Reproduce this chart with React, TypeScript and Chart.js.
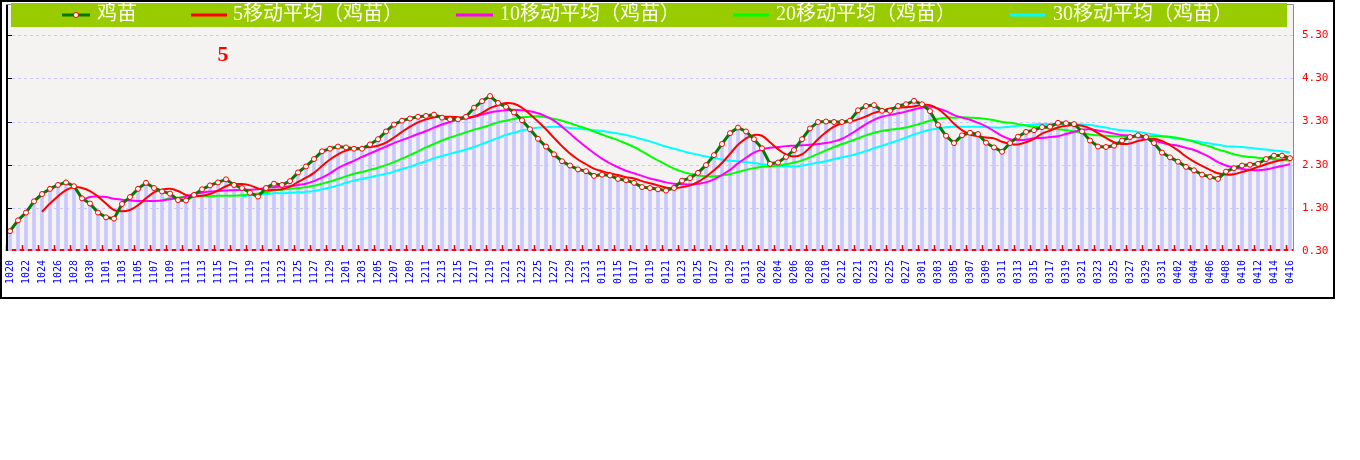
import React, { useEffect, useRef } from 'react';
import { Chart, registerables } from 'chart.js';

Chart.register(...registerables);

const dates = [
  '1020','1021','1022','1023','1024','1025','1026','1027','1028','1029','1030','1031',
  '1101','1102','1103','1104','1105','1106','1107','1108','1109','1110','1111','1112','1113','1114','1115','1116','1117','1118','1119','1120','1121','1122','1123','1124','1125','1126','1127','1128','1129','1130',
  '1201','1202','1203','1204','1205','1206','1207','1208','1209','1210','1211','1212','1213','1214','1215','1216','1217','1218','1219','1220','1221','1222','1223','1224','1225','1226','1227','1228','1229','1230','1231',
  '0112',
  '0113','0114','0115','0116','0117','0118','0119','0120','0121','0122','0123','0124','0125','0126','0127','0128','0129','0130','0131',
  '0201','0202','0203','0204','0205','0206','0207','0208','0209','0210','0211','0212',
  '0220',
  '0221','0222','0223','0224','0225','0226','0227','0228',
  '0301','0302','0303','0304','0305','0306','0307','0308','0309','0310','0311','0312','0313','0314','0315','0316','0317','0318','0319','0320','0321','0322','0323','0324','0325','0326','0327','0328','0329','0330','0331',
  '0401','0402','0403','0404','0405','0406','0407','0408','0409','0410','0411','0412','0413','0414','0415','0416'
];

const price = [
  0.76,1.01,1.19,1.45,1.62,1.74,1.83,1.89,1.80,1.52,
  1.40,1.19,1.08,1.05,1.39,1.55,1.74,1.88,1.76,1.68,
  1.63,1.48,1.47,1.60,1.73,1.82,1.89,1.96,1.83,1.76,
  1.65,1.56,1.76,1.86,1.83,1.92,2.12,2.26,2.43,2.61,
  2.67,2.72,2.70,2.67,2.67,2.77,2.89,3.07,3.23,3.32,
  3.37,3.41,3.43,3.46,3.39,3.35,3.35,3.41,3.62,3.77,
  3.89,3.73,3.64,3.51,3.33,3.12,2.90,2.72,2.54,2.38,
  2.28,2.19,2.15,2.04,2.07,2.05,1.97,1.94,1.88,1.78,
  1.76,1.73,1.70,1.76,1.93,1.99,2.11,2.29,2.52,2.78,
  3.03,3.16,3.07,2.89,2.68,2.32,2.35,2.48,2.64,2.89,
  3.14,3.29,3.30,3.29,3.29,3.32,3.56,3.66,3.68,3.55,
  3.55,3.66,3.70,3.78,3.70,3.54,3.22,2.97,2.80,2.98,
  3.04,3.01,2.81,2.70,2.60,2.80,2.95,3.06,3.10,3.17,
  3.18,3.27,3.26,3.24,3.07,2.86,2.72,2.71,2.74,2.86,
  2.94,2.98,2.94,2.80,2.58,2.47,2.37,2.25,2.17,2.07,
  2.02,1.97,2.14,2.22,2.28,2.30,2.32,2.43,2.51,2.51,
  2.45
];

const ma5 = [
  null,null,null,null,1.21,1.40,1.57,1.71,1.78,1.76,
  1.69,1.56,1.40,1.25,1.22,1.25,1.36,1.52,1.66,1.72,
  1.74,1.69,1.60,1.57,1.58,1.62,1.70,1.80,1.85,1.85,
  1.82,1.75,1.71,1.72,1.73,1.79,1.90,2.00,2.11,2.27,
  2.42,2.54,2.63,2.67,2.69,2.71,2.74,2.81,2.93,3.06,
  3.18,3.28,3.35,3.40,3.41,3.41,3.40,3.39,3.42,3.50,
  3.61,3.68,3.73,3.71,3.62,3.47,3.30,3.12,2.92,2.73,
  2.56,2.42,2.31,2.21,2.15,2.10,2.06,2.01,1.98,1.92,
  1.87,1.82,1.77,1.75,1.78,1.82,1.90,2.02,2.17,2.34,
  2.55,2.76,2.91,2.99,2.97,2.82,2.66,2.54,2.49,2.54,
  2.70,2.89,3.05,3.18,3.26,3.30,3.35,3.42,3.50,3.55,
  3.60,3.62,3.63,3.65,3.68,3.68,3.59,3.44,3.25,3.10,
  3.00,2.96,2.93,2.91,2.83,2.78,2.77,2.82,2.90,3.02,
  3.09,3.16,3.20,3.22,3.20,3.14,3.03,2.92,2.82,2.78,
  2.79,2.85,2.89,2.90,2.85,2.75,2.63,2.49,2.37,2.27,
  2.18,2.10,2.07,2.08,2.13,2.18,2.25,2.31,2.37,2.41,
  2.44
];

const ma10 = [
  null,null,null,null,null,null,null,null,null,1.48,
  1.55,1.56,1.55,1.51,1.49,1.47,1.46,1.46,1.46,1.47,
  1.50,1.52,1.56,1.62,1.65,1.68,1.69,1.70,1.71,1.72,
  1.72,1.73,1.76,1.78,1.79,1.80,1.83,1.86,1.92,2.00,
  2.10,2.22,2.31,2.39,2.48,2.56,2.64,2.72,2.80,2.87,
  2.94,3.01,3.08,3.16,3.23,3.29,3.34,3.37,3.41,3.46,
  3.51,3.54,3.56,3.57,3.56,3.54,3.49,3.42,3.32,3.18,
  3.02,2.86,2.71,2.57,2.44,2.33,2.24,2.16,2.10,2.04,
  1.98,1.94,1.89,1.86,1.85,1.84,1.86,1.89,1.96,2.06,
  2.18,2.33,2.46,2.58,2.65,2.69,2.71,2.73,2.74,2.75,
  2.76,2.78,2.80,2.84,2.90,3.00,3.12,3.24,3.34,3.41,
  3.45,3.49,3.53,3.58,3.62,3.64,3.60,3.54,3.45,3.39,
  3.34,3.27,3.19,3.08,2.97,2.89,2.87,2.88,2.91,2.92,
  2.94,2.96,3.01,3.06,3.11,3.12,3.09,3.06,3.02,2.99,
  2.97,2.94,2.91,2.86,2.81,2.77,2.74,2.69,2.64,2.56,
  2.47,2.36,2.28,2.23,2.20,2.18,2.17,2.19,2.23,2.27,
  2.31
];

const ma20 = [
  null,null,null,null,null,null,null,null,null,null,
  null,null,null,null,null,null,null,null,null,1.48,
  1.52,1.54,1.56,1.57,1.57,1.57,1.58,1.58,1.58,1.59,
  1.61,1.63,1.66,1.70,1.72,1.74,1.76,1.78,1.81,1.86,
  1.91,1.97,2.03,2.09,2.13,2.18,2.23,2.29,2.36,2.44,
  2.52,2.61,2.70,2.78,2.86,2.93,2.99,3.05,3.11,3.16,
  3.22,3.28,3.32,3.36,3.40,3.41,3.42,3.40,3.36,3.32,
  3.26,3.20,3.14,3.07,3.00,2.93,2.87,2.79,2.71,2.61,
  2.50,2.40,2.30,2.21,2.14,2.09,2.05,2.03,2.03,2.05,
  2.08,2.13,2.18,2.22,2.25,2.26,2.28,2.31,2.35,2.40,
  2.47,2.55,2.63,2.71,2.78,2.84,2.91,2.98,3.04,3.08,
  3.11,3.13,3.16,3.21,3.26,3.32,3.36,3.39,3.39,3.40,
  3.39,3.38,3.36,3.33,3.29,3.27,3.24,3.21,3.18,3.16,
  3.14,3.12,3.10,3.07,3.04,3.00,2.98,2.97,2.96,2.96,
  2.95,2.95,2.96,2.96,2.96,2.95,2.92,2.88,2.83,2.77,
  2.72,2.65,2.60,2.54,2.50,2.48,2.46,2.44,2.43,2.41,
  2.39
];

const ma30 = [
  null,null,null,null,null,null,null,null,null,null,
  null,null,null,null,null,null,null,null,null,null,
  null,null,null,null,null,null,null,null,null,1.56,
  1.59,1.60,1.62,1.64,1.64,1.65,1.66,1.67,1.69,1.73,
  1.77,1.82,1.88,1.93,1.97,2.01,2.05,2.09,2.14,2.20,
  2.25,2.32,2.38,2.45,2.50,2.55,2.60,2.65,2.71,2.78,
  2.85,2.92,2.99,3.04,3.09,3.13,3.16,3.17,3.18,3.17,
  3.15,3.14,3.12,3.10,3.08,3.05,3.02,2.99,2.94,2.89,
  2.84,2.78,2.72,2.67,2.62,2.57,2.53,2.49,2.46,2.42,
  2.39,2.38,2.36,2.34,2.31,2.29,2.27,2.26,2.26,2.28,
  2.31,2.35,2.38,2.43,2.47,2.51,2.56,2.62,2.68,2.74,
  2.80,2.86,2.93,3.00,3.06,3.11,3.14,3.17,3.18,3.18,
  3.18,3.18,3.17,3.16,3.16,3.18,3.20,3.22,3.23,3.24,
  3.24,3.24,3.24,3.24,3.23,3.22,3.19,3.16,3.12,3.10,
  3.08,3.06,3.03,3.00,2.96,2.93,2.90,2.88,2.85,2.82,
  2.79,2.76,2.73,2.72,2.71,2.69,2.67,2.65,2.63,2.61,
  2.58
];

const yTickValues = [0.3, 1.3, 2.3, 3.3, 4.3, 5.3];
const seriesNames = ['鸡苗', '5移动平均（鸡苗）', '10移动平均（鸡苗）', '20移动平均（鸡苗）', '30移动平均（鸡苗）'];
const seriesColors = ['#007a00', '#ff0000', '#ff00ff', '#00ff00', '#00ffff'];
const periodLabel = '5';

const LEGEND_ITEMS = [
  { lineX: 62, lineW: 28, textX: 97 },
  { lineX: 191, lineW: 36, textX: 233 },
  { lineX: 456, lineW: 37, textX: 500 },
  { lineX: 733, lineW: 36, textX: 776 },
  { lineX: 1010, lineW: 35, textX: 1053 },
];

const decorPlugin = {
  id: 'decor',
  beforeDraw(chart: any) {
    const { ctx, chartArea: a, width, height } = chart;
    const ys = chart.scales.y;
    const xs = chart.scales.x;
    ctx.save();
    ctx.fillStyle = '#ffffff';
    ctx.fillRect(0, 0, width, height);
    ctx.fillStyle = '#f5f3f2';
    ctx.fillRect(a.left, a.top, a.right - a.left, a.bottom - a.top);
    // dashed grid lines
    ctx.strokeStyle = '#c8c8ff';
    ctx.lineWidth = 1;
    ctx.setLineDash([3, 3]);
    yTickValues.slice(1).forEach((v) => {
      const py = Math.round(ys.getPixelForValue(v)) + 0.5;
      ctx.beginPath();
      ctx.moveTo(a.left, py);
      ctx.lineTo(a.right, py);
      ctx.stroke();
    });
    ctx.setLineDash([]);
    // red bottom axis line
    ctx.strokeStyle = '#ff0000';
    ctx.lineWidth = 2;
    ctx.beginPath();
    ctx.moveTo(a.left, a.bottom - 1);
    ctx.lineTo(a.right, a.bottom - 1);
    ctx.stroke();
    // red tick marks every two categories
    const step = xs.getPixelForValue(1) - xs.getPixelForValue(0);
    ctx.lineWidth = 1.5;
    for (let i = 0; i < dates.length; i += 2) {
      const px = Math.round(xs.getPixelForValue(i) - step / 2) + 0.5;
      ctx.beginPath();
      ctx.moveTo(px, a.bottom);
      ctx.lineTo(px, a.bottom - 6);
      ctx.stroke();
    }
    ctx.restore();
  },
  afterDraw(chart: any) {
    const { ctx, chartArea: a, width, height } = chart;
    const ys = chart.scales.y;
    ctx.save();
    // plot border (top/right gray)
    ctx.strokeStyle = '#8c8c8c';
    ctx.lineWidth = 1;
    ctx.beginPath();
    ctx.moveTo(a.left, a.top - 0.5);
    ctx.lineTo(a.right - 0.5, a.top - 0.5);
    ctx.lineTo(a.right - 0.5, a.bottom);
    ctx.stroke();
    // left black axis with ticks
    ctx.strokeStyle = '#000000';
    ctx.lineWidth = 2;
    ctx.beginPath();
    ctx.moveTo(a.left + 1, a.top);
    ctx.lineTo(a.left + 1, a.bottom);
    ctx.stroke();
    ctx.lineWidth = 1;
    yTickValues.slice(1).forEach((v) => {
      const py = Math.round(ys.getPixelForValue(v)) + 0.5;
      ctx.beginPath();
      ctx.moveTo(a.left, py);
      ctx.lineTo(a.left + 6, py);
      ctx.stroke();
    });
    // outer frame
    ctx.lineWidth = 2;
    ctx.strokeRect(1, 1, width - 2, height - 2);
    // legend bar
    ctx.fillStyle = '#99cc00';
    ctx.fillRect(11, 3, 1276, 24);
    const ly = 15;
    LEGEND_ITEMS.forEach((it, i) => {
      ctx.strokeStyle = seriesColors[i];
      ctx.lineWidth = 3;
      ctx.beginPath();
      ctx.moveTo(it.lineX, ly);
      ctx.lineTo(it.lineX + it.lineW, ly);
      ctx.stroke();
      if (i === 0) {
        ctx.fillStyle = '#ffffff';
        ctx.strokeStyle = '#ff0000';
        ctx.lineWidth = 1;
        ctx.beginPath();
        ctx.arc(it.lineX + it.lineW / 2, ly, 2.5, 0, Math.PI * 2);
        ctx.fill();
        ctx.stroke();
      }
      ctx.fillStyle = '#ffffee';
      ctx.font = '20px "Liberation Serif", "Noto Sans CJK SC", serif';
      ctx.textBaseline = 'middle';
      ctx.textAlign = 'left';
      ctx.fillText(seriesNames[i], it.textX, ly);
    });
    // period label
    ctx.fillStyle = '#ff0000';
    ctx.font = 'bold 22px "Liberation Serif", serif';
    ctx.textAlign = 'center';
    ctx.textBaseline = 'middle';
    ctx.fillText(periodLabel, 223, 55);
    ctx.restore();
  },
};

export default function App() {
  const canvasRef = useRef<HTMLCanvasElement | null>(null);

  useEffect(() => {
    const canvas = canvasRef.current;
    if (!canvas) return;
    const lineDs = (label: string, data: (number | null)[], color: string, order: number) => ({
      type: 'line' as const,
      label,
      data,
      borderColor: color,
      backgroundColor: color,
      borderWidth: 2,
      pointRadius: 0,
      tension: 0.4,
      fill: false,
      order,
    });
    const chart = new Chart(canvas, {
      type: 'bar',
      data: {
        labels: dates,
        datasets: [
          {
            type: 'line' as const,
            label: seriesNames[0],
            data: price,
            borderColor: seriesColors[0],
            borderWidth: 3,
            pointRadius: 2.5,
            pointBackgroundColor: '#ffffff',
            pointBorderColor: '#ff0000',
            pointBorderWidth: 1,
            tension: 0,
            fill: false,
            order: 0,
          },
          lineDs(seriesNames[1], ma5, seriesColors[1], 1),
          lineDs(seriesNames[2], ma10, seriesColors[2], 2),
          lineDs(seriesNames[3], ma20, seriesColors[3], 3),
          lineDs(seriesNames[4], ma30, seriesColors[4], 4),
          {
            type: 'bar' as const,
            label: 'bars',
            data: price,
            backgroundColor: '#c8c8ff',
            barThickness: 3,
            order: 5,
          },
        ] as any,
      },
      plugins: [decorPlugin],
      options: {
        responsive: false,
        animation: false,
        devicePixelRatio: 1,
        layout: { padding: { left: 6, top: 3, right: 0, bottom: 0 } },
        plugins: {
          legend: { display: false },
          tooltip: { enabled: false },
        },
        scales: {
          x: {
            offset: true,
            grid: { display: false, drawTicks: false },
            border: { display: false },
            ticks: {
              autoSkip: false,
              minRotation: 90,
              maxRotation: 90,
              padding: 9,
              color: '#0000ff',
              font: { family: '"DejaVu Sans Mono", monospace', size: 10 },
              callback: (_v: any, idx: number) => (idx % 2 === 0 ? dates[idx] : ''),
            },
            afterFit: (scale: any) => {
              scale.height = 48;
              scale.paddingLeft = 0;
              scale.paddingRight = 0;
            },
          },
          y: {
            position: 'right',
            min: 0.3,
            max: 6.0,
            grid: { display: false, drawTicks: false },
            border: { display: false },
            afterBuildTicks: (scale: any) => {
              scale.ticks = yTickValues.map((v) => ({ value: v }));
            },
            ticks: {
              color: '#ff0000',
              padding: 8,
              font: { family: '"DejaVu Sans Mono", monospace', size: 11 },
              callback: (v: any) => Number(v).toFixed(2),
            },
            afterFit: (scale: any) => {
              scale.width = 41;
              scale.paddingTop = 0;
              scale.paddingBottom = 0;
            },
          },
        },
      } as any,
    });
    return () => chart.destroy();
  }, []);

  return (
    <div style={{ position: 'absolute', left: 0, top: 0, width: 1335, height: 299 }}>
      <canvas ref={canvasRef} width={1335} height={299} style={{ display: 'block' }} />
    </div>
  );
}
